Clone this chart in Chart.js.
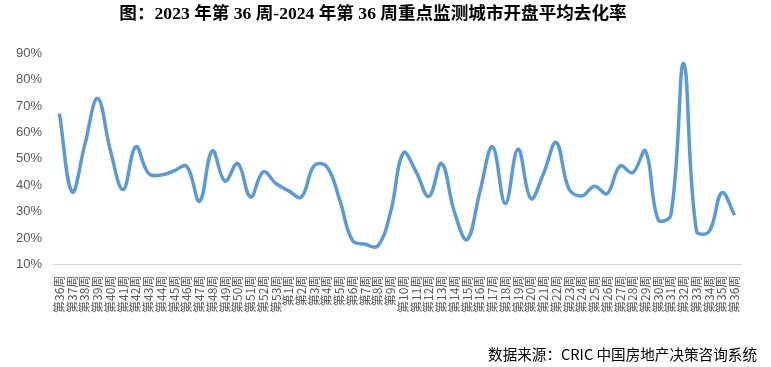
<!DOCTYPE html>
<html>
<head>
<meta charset="utf-8">
<script src="https://cdn.jsdelivr.net/npm/chart.js@4"></script>
<style>
  html, body { margin: 0; padding: 0; background: #fff; }
  #wrap { width: 771px; height: 367px; }
</style>
</head>
<body>
<div id="wrap"><canvas id="rateChart"></canvas></div>
<script>
var weeks2023 = [36, 37, 38, 39, 40, 41, 42, 43, 44, 45, 46, 47, 48, 49, 50, 51, 52, 53];
var weeks2024 = [1, 2, 3, 4, 5, 6, 7, 8, 9, 10, 11, 12, 13, 14, 15, 16, 17, 18,
    19, 20, 21, 22, 23, 24, 25, 26, 27, 28, 29, 30, 31, 32, 33, 34, 35, 36];

// 开盘平均去化率 (%)
var rate2023 = [67.2, 37.5, 55.5, 72.9, 53.3, 38.4, 54.6, 44.5, 43.9, 45.5,
    47.2, 34.0, 53.0, 41.6, 48.3, 35.6, 45.1, 40.7];
var rate2024 = [37.9, 35.6, 47.5, 47.0, 34.5, 19.2, 17.7, 17.1, 30.0, 52.3,
    45.1, 35.8, 48.3, 30.0, 19.5, 37.5, 54.6, 33.1, 53.7, 35.0,
    44.5, 56.2, 38.6, 36.0, 39.7, 36.9, 47.3, 44.8, 53.0, 27.0,
    28.9, 86.1, 22.8, 22.6, 37.2, 28.7];

var yTicks = [10, 20, 30, 40, 50, 60, 70, 80, 90];

var titleText = '图：2023 年第 36 周-2024 年第 36 周重点监测城市开盘平均去化率';
var sourceText = '数据来源：CRIC 中国房地产决策咨询系统';

var labels = weeks2023.concat(weeks2024).map(function (w) {
    return '第' + w + '周';
});
var values = rate2023.concat(rate2024);

var sourceNote = {
    id: 'sourceNote',
    afterDraw: function (chart) {
        var c = chart.ctx;
        c.save();
        c.font = '14.6px "Noto Sans CJK SC", sans-serif';
        c.fillStyle = '#000';
        c.textAlign = 'right';
        c.textBaseline = 'middle';
        c.fillText(sourceText, 757, 354);
        c.restore();
    }
};

var ctx = document.getElementById('rateChart').getContext('2d');
var myChart = new Chart(ctx, {
    type: 'line',
    data: {
        labels: labels,
        datasets: [{
            label: '开盘平均去化率',
            data: values,
            borderColor: '#5B9BD5',
            backgroundColor: '#5B9BD5',
            borderWidth: 3.5,
            pointRadius: 0,
            tension: 0.4,
            fill: false
        }]
    },
    options: {
        responsive: true,
        maintainAspectRatio: false,
        animation: false,
        layout: {
            padding: { left: 5, right: 30, top: 4, bottom: 43 }
        },
        plugins: {
            legend: { display: false },
            tooltip: { enabled: false },
            title: {
                display: true,
                text: titleText,
                color: '#000',
                font: { family: '"Liberation Serif", "Noto Sans CJK SC", serif', size: 17.6, weight: 'bold' },
                padding: { top: 0, bottom: 28 }
            }
        },
        scales: {
            x: {
                offset: true,
                grid: { display: false, drawTicks: false },
                border: { display: true, color: '#D9D9D9', width: 1 },
                ticks: {
                    autoSkip: false,
                    minRotation: 90,
                    maxRotation: 90,
                    padding: 11,
                    color: '#595959',
                    font: { family: '"Noto Sans CJK SC", sans-serif', size: 12 }
                }
            },
            y: {
                min: 10,
                max: 90,
                afterBuildTicks: function (axis) {
                    axis.ticks = yTicks.map(function (v) { return { value: v }; });
                },
                grid: { display: false, drawTicks: false },
                border: { display: false },
                ticks: {
                    padding: 11,
                    color: '#595959',
                    font: { family: '"Liberation Sans", sans-serif', size: 13 },
                    callback: function (v) { return v + '%'; }
                }
            }
        }
    },
    plugins: [sourceNote]
});
</script>
</body>
</html>
